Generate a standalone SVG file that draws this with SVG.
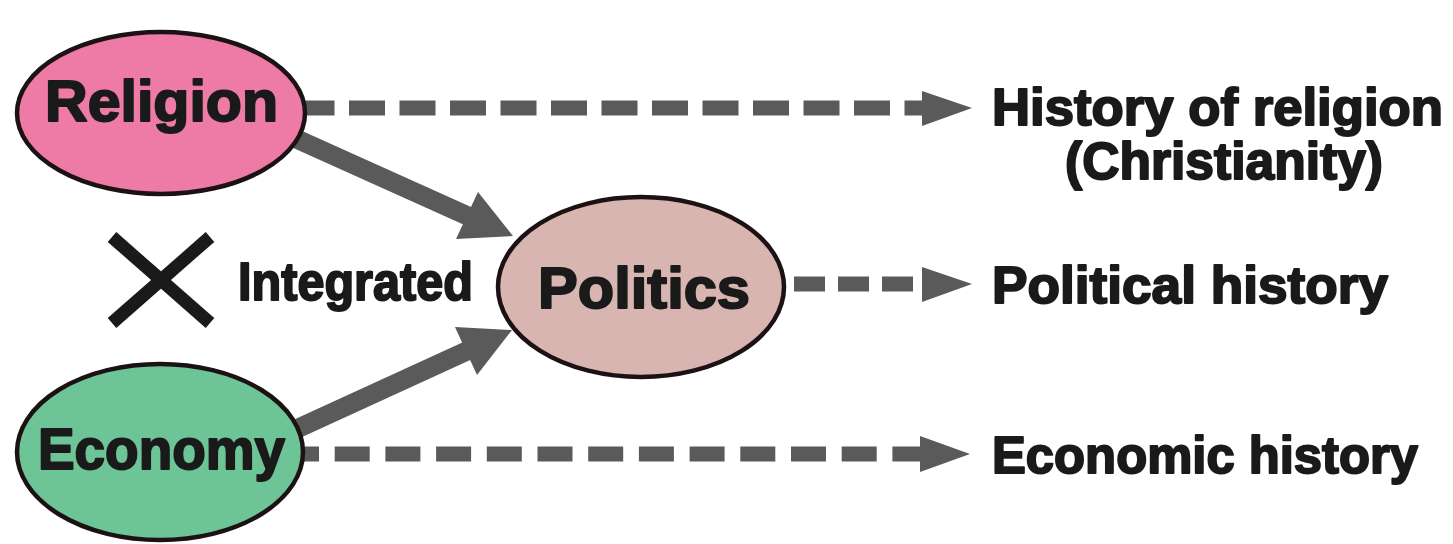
<svg xmlns="http://www.w3.org/2000/svg" width="1453" height="544" viewBox="0 0 1453 544">
<style>
.node{stroke:#1c1214;stroke-width:4.5}
.lbl{font-family:"Liberation Sans",Arial,sans-serif;font-weight:bold;fill:#1a1a1a;stroke:#1a1a1a;stroke-width:2;stroke-linejoin:round}
.dash{stroke:#5a5a5a;stroke-width:15;fill:none}
.shaft{stroke:#5a5a5a;stroke-width:19;fill:none}
.head{fill:#5a5a5a}
</style>
<rect width="1453" height="544" fill="#ffffff"/>
<g id="connectors">
<line class="dash" x1="298.5" y1="108" x2="925" y2="108" stroke-dasharray="36 14.5"/>
<polygon class="head" points="922,91 972,108 922,126"/>
<line class="dash" x1="794" y1="284" x2="925" y2="284" stroke-dasharray="31 13"/>
<polygon class="head" points="922,267 972,284 922,302"/>
<line class="dash" x1="284" y1="454" x2="922" y2="454" stroke-dasharray="35 15.7"/>
<polygon class="head" points="920,436 970,454 920,472"/>
<line class="shaft" x1="290" y1="136" x2="470" y2="217"/>
<polygon class="head" points="513,236 456,239 478,192"/>
<line class="shaft" x1="290" y1="432" x2="469" y2="350"/>
<polygon class="head" points="512,330 477,375 455,327"/>
</g>
<g id="node-religion">
<ellipse class="node" cx="161" cy="113" rx="144" ry="81" fill="#ee7ba6"/>
<text class="lbl" x="45" y="121" font-size="57" textLength="233" lengthAdjust="spacingAndGlyphs">Religion</text>
</g>
<g id="node-politics">
<ellipse class="node" cx="641" cy="287" rx="143" ry="90" fill="#d9b5b1"/>
<text class="lbl" x="538" y="308" font-size="58" textLength="212" lengthAdjust="spacingAndGlyphs">Politics</text>
</g>
<g id="node-economy">
<ellipse class="node" cx="160" cy="452" rx="143" ry="88" fill="#6dc597"/>
<text class="lbl" x="38" y="469" font-size="57" textLength="247" lengthAdjust="spacingAndGlyphs">Economy</text>
</g>
<g id="integrated">
<path d="M112,237 L210,323 M210,237 L112,323" stroke="#1a1a1a" stroke-width="13" fill="none"/>
<text class="lbl" x="238" y="300" font-size="54" textLength="235" lengthAdjust="spacingAndGlyphs">Integrated</text>
</g>
<g id="node-history-religion">
<text class="lbl" x="992" y="125" font-size="52" textLength="451" lengthAdjust="spacingAndGlyphs">History of religion</text>
<text class="lbl" x="1065" y="179" font-size="51" textLength="318" lengthAdjust="spacingAndGlyphs">(Christianity)</text>
</g>
<g id="node-political-history">
<text class="lbl" x="992" y="303" font-size="52" textLength="396" lengthAdjust="spacingAndGlyphs">Political history</text>
</g>
<g id="node-economic-history">
<text class="lbl" x="992" y="473" font-size="52" textLength="426" lengthAdjust="spacingAndGlyphs">Economic history</text>
</g>
</svg>
